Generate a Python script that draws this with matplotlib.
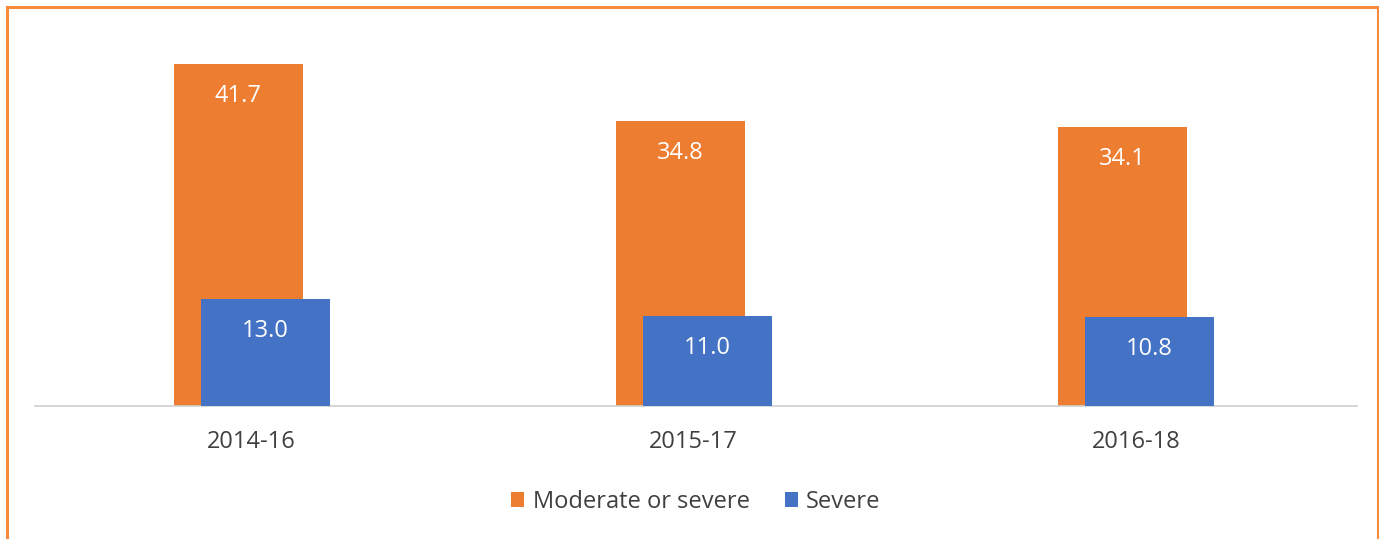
import numpy as np
import matplotlib.pyplot as plt
from matplotlib.patches import Rectangle

periods = ["2014-16", "2015-17", "2016-18"]
moderate_or_severe = [41.7, 34.8, 34.1]
severe = [13.0, 11.0, 10.8]

orange = "#ED7D31"
blue = "#4472C4"
text_col = "#404040"

plt.rcParams['font.family'] = ['Open Sans', 'DejaVu Sans']

fig = plt.figure(figsize=(13.79, 5.39), dpi=100)
ax = fig.add_axes([0.0254, 0.2468, 0.9586, 0.684])

x = np.arange(len(periods))
w = 0.292
off = 0.0305

b1 = ax.bar(x - off, moderate_or_severe, w, color=orange, label="Moderate or severe", zorder=2)
b2 = ax.bar(x + off, severe, w, color=blue, label="Severe", zorder=3)

# value labels inside the top of each bar
for bars, vals, z in [(b1, moderate_or_severe, 4), (b2, severe, 5)]:
    for r, v in zip(bars, vals):
        ax.annotate(f"{v:.1f}", xy=(r.get_x() + r.get_width() / 2, v),
                    xytext=(0, -23), textcoords="offset points",
                    ha="center", va="center", color="white", fontsize=17, zorder=z)

ax.set_xlim(-0.49, 2.5)
ax.set_ylim(0, 45)
ax.set_yticks([])
ax.set_xticks(x)
ax.set_xticklabels(periods, fontsize=17, color=text_col)
ax.tick_params(axis="x", length=0, pad=17)
for s in ["top", "right", "left"]:
    ax.spines[s].set_visible(False)
ax.spines["bottom"].set_color("#D0D0D0")
ax.spines["bottom"].set_linewidth(1.2)

ax.legend(loc="center", bbox_to_anchor=(0.5, -0.26), ncol=2, frameon=False,
          fontsize=17, handlelength=0.55, handleheight=0.55, handletextpad=0.35,
          columnspacing=1.5, labelcolor=text_col)

# orange frame around the figure
fig.patches.append(Rectangle((7 / 1379, -0.01), (1378 - 7) / 1379, 1 - 7 / 539 + 0.01,
                             transform=fig.transFigure, fill=False,
                             edgecolor="#F58B3C", linewidth=2.2))

fig.savefig("out.png", dpi=100)
